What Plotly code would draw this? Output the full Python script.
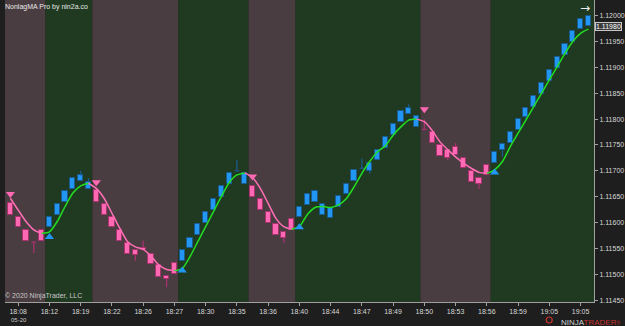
import plotly.graph_objects as go

# ---------------- data ----------------
opens = [1.11637, 1.11611, 1.11586, 1.11562, 1.11586, 1.11591, 1.11615, 1.11640, 1.11665, 1.11681,
         1.11665, 1.11662, 1.11636, 1.11611, 1.11586, 1.11561, 1.11547, 1.11551, 1.11540, 1.11517,
         1.11497, 1.11521, 1.11526, 1.11550, 1.11575, 1.11600, 1.11624, 1.11650, 1.11675, 1.11700,
         1.11675, 1.11671, 1.11646, 1.11620, 1.11597, 1.11581, 1.11607, 1.11611, 1.11634, 1.11640,
         1.11615, 1.11609, 1.11631, 1.11655, 1.11680, 1.11705, 1.11700, 1.11720, 1.11744, 1.11769,
         1.11794, 1.11810, 1.11785, 1.11780, 1.11776, 1.11750, 1.11740, 1.11747, 1.11725, 1.11700,
         1.11687, 1.11711, 1.11715, 1.11740, 1.11754, 1.11779, 1.11805, 1.11824, 1.11849, 1.11874,
         1.11899, 1.11925, 1.11950, 1.11974, 1.11980]
closes = [1.11615, 1.11591, 1.11565, 1.11562, 1.11565, 1.11611, 1.11636, 1.11661, 1.11687, 1.11691,
          1.11678, 1.11640, 1.11615, 1.11591, 1.11565, 1.11539, 1.11537, 1.11546, 1.11520, 1.11495,
          1.11491, 1.11500, 1.11547, 1.11571, 1.11597, 1.11620, 1.11646, 1.11671, 1.11696, 1.11700,
          1.11696, 1.11650, 1.11624, 1.11600, 1.11575, 1.11571, 1.11586, 1.11631, 1.11655, 1.11661,
          1.11636, 1.11629, 1.11651, 1.11675, 1.11701, 1.11705, 1.11716, 1.11740, 1.11766, 1.11791,
          1.11816, 1.11821, 1.11806, 1.11780, 1.11754, 1.11729, 1.11725, 1.11730, 1.11705, 1.11679,
          1.11675, 1.11691, 1.11736, 1.11751, 1.11775, 1.11800, 1.11821, 1.11845, 1.11870, 1.11895,
          1.11920, 1.11945, 1.11970, 1.11994, 1.11999]
highs = [1.11637, 1.11611, 1.11586, 1.11562, 1.11586, 1.11611, 1.11636, 1.11661, 1.11687, 1.11700,
         1.11686, 1.11662, 1.11636, 1.11611, 1.11586, 1.11561, 1.11547, 1.11565, 1.11540, 1.11517,
         1.11497, 1.11521, 1.11547, 1.11571, 1.11597, 1.11620, 1.11646, 1.11671, 1.11696, 1.11721,
         1.11696, 1.11671, 1.11646, 1.11620, 1.11597, 1.11581, 1.11607, 1.11631, 1.11655, 1.11661,
         1.11636, 1.11629, 1.11651, 1.11675, 1.11701, 1.11724, 1.11716, 1.11740, 1.11766, 1.11791,
         1.11816, 1.11829, 1.11806, 1.11799, 1.11776, 1.11750, 1.11740, 1.11754, 1.11725, 1.11700,
         1.11687, 1.11711, 1.11736, 1.11751, 1.11775, 1.11800, 1.11821, 1.11845, 1.11870, 1.11895,
         1.11920, 1.11945, 1.11970, 1.11994, 1.11999]
lows = [1.11615, 1.11591, 1.11565, 1.11541, 1.11565, 1.11591, 1.11615, 1.11640, 1.11665, 1.11681,
        1.11665, 1.11640, 1.11615, 1.11591, 1.11565, 1.11539, 1.11526, 1.11546, 1.11520, 1.11495,
        1.11475, 1.11500, 1.11526, 1.11550, 1.11575, 1.11600, 1.11624, 1.11650, 1.11675, 1.11700,
        1.11675, 1.11650, 1.11624, 1.11600, 1.11575, 1.11561, 1.11586, 1.11611, 1.11634, 1.11640,
        1.11615, 1.11609, 1.11631, 1.11655, 1.11680, 1.11705, 1.11695, 1.11720, 1.11744, 1.11769,
        1.11794, 1.11810, 1.11785, 1.11780, 1.11754, 1.11729, 1.11721, 1.11730, 1.11705, 1.11679,
        1.11665, 1.11691, 1.11715, 1.11727, 1.11754, 1.11779, 1.11800, 1.11824, 1.11849, 1.11874,
        1.11899, 1.11925, 1.11950, 1.11974, 1.11980]
nonlag_ma = [1.11647, 1.11624, 1.11602, 1.11586, 1.11579, 1.11582, 1.11602, 1.11631, 1.11657, 1.11671,
             1.11676, 1.11666, 1.11647, 1.11618, 1.11589, 1.11563, 1.11553, 1.11548, 1.11535, 1.11518,
             1.11509, 1.11507, 1.11511, 1.11534, 1.11563, 1.11592, 1.11621, 1.11650, 1.11677, 1.11692,
             1.11696, 1.11687, 1.11666, 1.11637, 1.11608, 1.11592, 1.11587, 1.11592, 1.11615, 1.11629,
             1.11631, 1.11629, 1.11634, 1.11646, 1.11669, 1.11695, 1.11718, 1.11737, 1.11748, 1.11769,
             1.11785, 1.11798, 1.11800, 1.11795, 1.11778, 1.11756, 1.11741, 1.11727, 1.11715, 1.11705,
             1.11697, 1.11695, 1.11702, 1.11718, 1.11747, 1.11773, 1.11798, 1.11824, 1.11850, 1.11876,
             1.11901, 1.11927, 1.11950, 1.11966, 1.11974]

sell_signal_bars = [0, 11, 31, 53]
sell_signal_prices = [1.11655, 1.11678, 1.11689, 1.11819]
buy_signal_bars = [5, 22, 37, 62]
buy_signal_prices = [1.11572, 1.11507, 1.11591, 1.11697]

time_tick_bars = [1, 5, 9, 13, 17, 21, 25, 29, 33, 37, 41, 45, 49, 53, 57, 61, 65, 69, 73]
time_labels = ["18:08", "18:12", "18:19", "18:22", "18:26", "18:27", "18:30", "18:35", "18:36", "18:40",
               "18:44", "18:47", "18:49", "18:50", "18:53", "18:56", "18:59", "19:05", "19:05"]
price_ticks = [1.11450, 1.11500, 1.11550, 1.11600, 1.11650, 1.11700, 1.11750, 1.11800, 1.11850,
               1.11900, 1.11950, 1.12000]
last_price_label = "1.11980"
last_price_level = 1.11980

# ---------------- styles ----------------
BG = "#1e1e1e"
BAND_DOWN = "#4a3d41"
BAND_UP = "#1f3a21"
UP_FILL, UP_EDGE = "#2196f3", "#1b5a8c"
DN_FILL, DN_EDGE = "#ff69b4", "#a8326e"
MA_UP, MA_DN = "#22dd22", "#ff6fb5"
AX = "#a0a0a0"
TXT = "#d8d8d8"
FONT = "Liberation Sans"

n = len(opens)
bars = list(range(n))
X0, X1 = -0.69, 74.72
Y0, Y1 = 1.114463, 1.120304

# trend per bar from the signals
events = sorted([(b, -1) for b in sell_signal_bars] + [(b, 1) for b in buy_signal_bars])
trend = []
cur = events[0][1]
ev = dict(events)
for i in bars:
    if i in ev:
        cur = ev[i]
    trend.append(cur)

# runs of equal trend
runs = []
start = 0
for i in range(1, n + 1):
    if i == n or trend[i] != trend[start]:
        runs.append((start, i - 1, trend[start]))
        start = i

fig = go.Figure()

# background bands
shapes = []
for a, b, t in runs:
    x0 = X0 if a == 0 else a - 0.5
    x1 = X1 if b == n - 1 else b + 0.5
    shapes.append(dict(type="rect", xref="x", yref="paper", x0=x0, x1=x1, y0=0, y1=1,
                       fillcolor=BAND_UP if t > 0 else BAND_DOWN, line=dict(width=0), layer="below"))

# wicks & doji (drawn as line segments)
for direction, edge in ((1, UP_EDGE), (-1, DN_EDGE)):
    wx, wy = [], []
    for i in bars:
        o, c, h, l = opens[i], closes[i], highs[i], lows[i]
        if o == c:
            d = trend[i]
        else:
            d = 1 if c > o else -1
        if d != direction:
            continue
        top, bot = max(o, c), min(o, c)
        if h > top:
            wx += [i, i, None]; wy += [top, h, None]
        if l < bot:
            wx += [i, i, None]; wy += [bot, l, None]
        if o == c:
            wx += [i - 0.3, i + 0.3, None]; wy += [o, o, None]
    fig.add_trace(go.Scatter(x=wx, y=wy, mode="lines", line=dict(color=edge, width=1.3),
                             hoverinfo="skip", showlegend=False))

# bodies
for direction, fill, edge in ((1, UP_FILL, UP_EDGE), (-1, DN_FILL, DN_EDGE)):
    bx, by, bb = [], [], []
    for i in bars:
        o, c = opens[i], closes[i]
        if o == c:
            continue
        d = 1 if c > o else -1
        if d != direction:
            continue
        bx.append(i); bb.append(min(o, c)); by.append(abs(c - o))
    fig.add_trace(go.Bar(x=bx, y=by, base=bb, width=0.66,
                         marker=dict(color=fill, line=dict(color=edge, width=1)),
                         hoverinfo="skip", showlegend=False))

# NonLag MA line, coloured by trend
for a, b, t in runs:
    s = a - 1 if a > 0 else a
    xs = bars[s:b + 1]
    ys = nonlag_ma[s:b + 1]
    fig.add_trace(go.Scatter(x=xs, y=ys, mode="lines",
                             line=dict(color=MA_UP if t > 0 else MA_DN, width=1.5, shape="spline", smoothing=0.6),
                             hoverinfo="skip", showlegend=False))

# signal triangles
fig.add_trace(go.Scatter(x=sell_signal_bars, y=sell_signal_prices, mode="markers",
                         marker=dict(symbol="triangle-down", size=8, color=DN_FILL, line=dict(width=0)),
                         hoverinfo="skip", showlegend=False))
fig.add_trace(go.Scatter(x=buy_signal_bars, y=buy_signal_prices, mode="markers",
                         marker=dict(symbol="triangle-up", size=8, color=UP_FILL, line=dict(width=0)),
                         hoverinfo="skip", showlegend=False))

annotations = [
    dict(text="NonlagMA Pro by nin2a.co", xref="paper", yref="paper", x=0, y=1, xanchor="left",
         yanchor="top", xshift=-2, yshift=-1, showarrow=False, font=dict(family=FONT, size=7, color="#e8e8e8")),
    dict(text="© 2020 NinjaTrader, LLC", xref="paper", yref="paper", x=0, y=0, xanchor="left",
         yanchor="bottom", xshift=-2, yshift=0, showarrow=False, font=dict(family=FONT, size=7, color="#c8c8c8")),
    dict(text="05-20", xref="paper", yref="paper", x=0, y=0, xanchor="left",
         yanchor="top", xshift=4, yshift=-13, showarrow=False, font=dict(family=FONT, size=6, color="#c8c8c8")),
    dict(text="→", xref="paper", yref="paper", x=1, y=1, xanchor="right", yanchor="top",
         xshift=-2, yshift=1, showarrow=False, font=dict(family="DejaVu Sans", size=12, color="#f0f0f0")),
    dict(text=last_price_label, xref="paper", yref="y", x=1, y=last_price_level, xanchor="left",
         yanchor="middle", xshift=1, showarrow=False, bgcolor="#3c3c3c", bordercolor="#c8c8c8",
         borderwidth=1, borderpad=0, font=dict(family=FONT, size=7, color="#ffffff")),
    dict(text='<span style="color:#d0d0d0">NINJA</span><span style="color:#c8332e">TRADER</span>'
              '<span style="color:#c8332e;font-size:5px">®</span>',
         xref="paper", yref="paper", x=1, y=0, xanchor="right", yanchor="top", xshift=28, yshift=-14,
         showarrow=False, font=dict(family=FONT, size=8, color="#d0d0d0")),
]
shapes.append(dict(type="circle", xref="paper", yref="paper", x0=(549 - 5) / 592, x1=(555 - 5) / 592,
                   y0=-(317 - 302) / 302, y1=-(323 - 302) / 302, line=dict(color="#c8332e", width=1.2),
                   fillcolor="rgba(0,0,0,0)"))

fig.update_layout(
    width=625, height=326, margin=dict(l=5, r=28, t=0, b=24),
    paper_bgcolor=BG, plot_bgcolor=BG, barmode="overlay", bargap=0,
    shapes=shapes, annotations=annotations, showlegend=False,
    xaxis=dict(range=[X0, X1], tickvals=time_tick_bars, ticktext=time_labels, ticks="outside",
               ticklen=3, tickcolor=AX, showline=True, linecolor=AX, linewidth=1, showgrid=False,
               zeroline=False, tickfont=dict(family=FONT, size=7, color=TXT), fixedrange=True),
    yaxis=dict(range=[Y0, Y1], side="right", tickvals=price_ticks, tickformat=".5f", ticks="outside",
               ticklen=3, tickcolor=AX, showline=True, linecolor=AX, linewidth=1, showgrid=False,
               zeroline=False, tickfont=dict(family=FONT, size=7, color=TXT), fixedrange=True),
)

fig.write_html("out.html")
